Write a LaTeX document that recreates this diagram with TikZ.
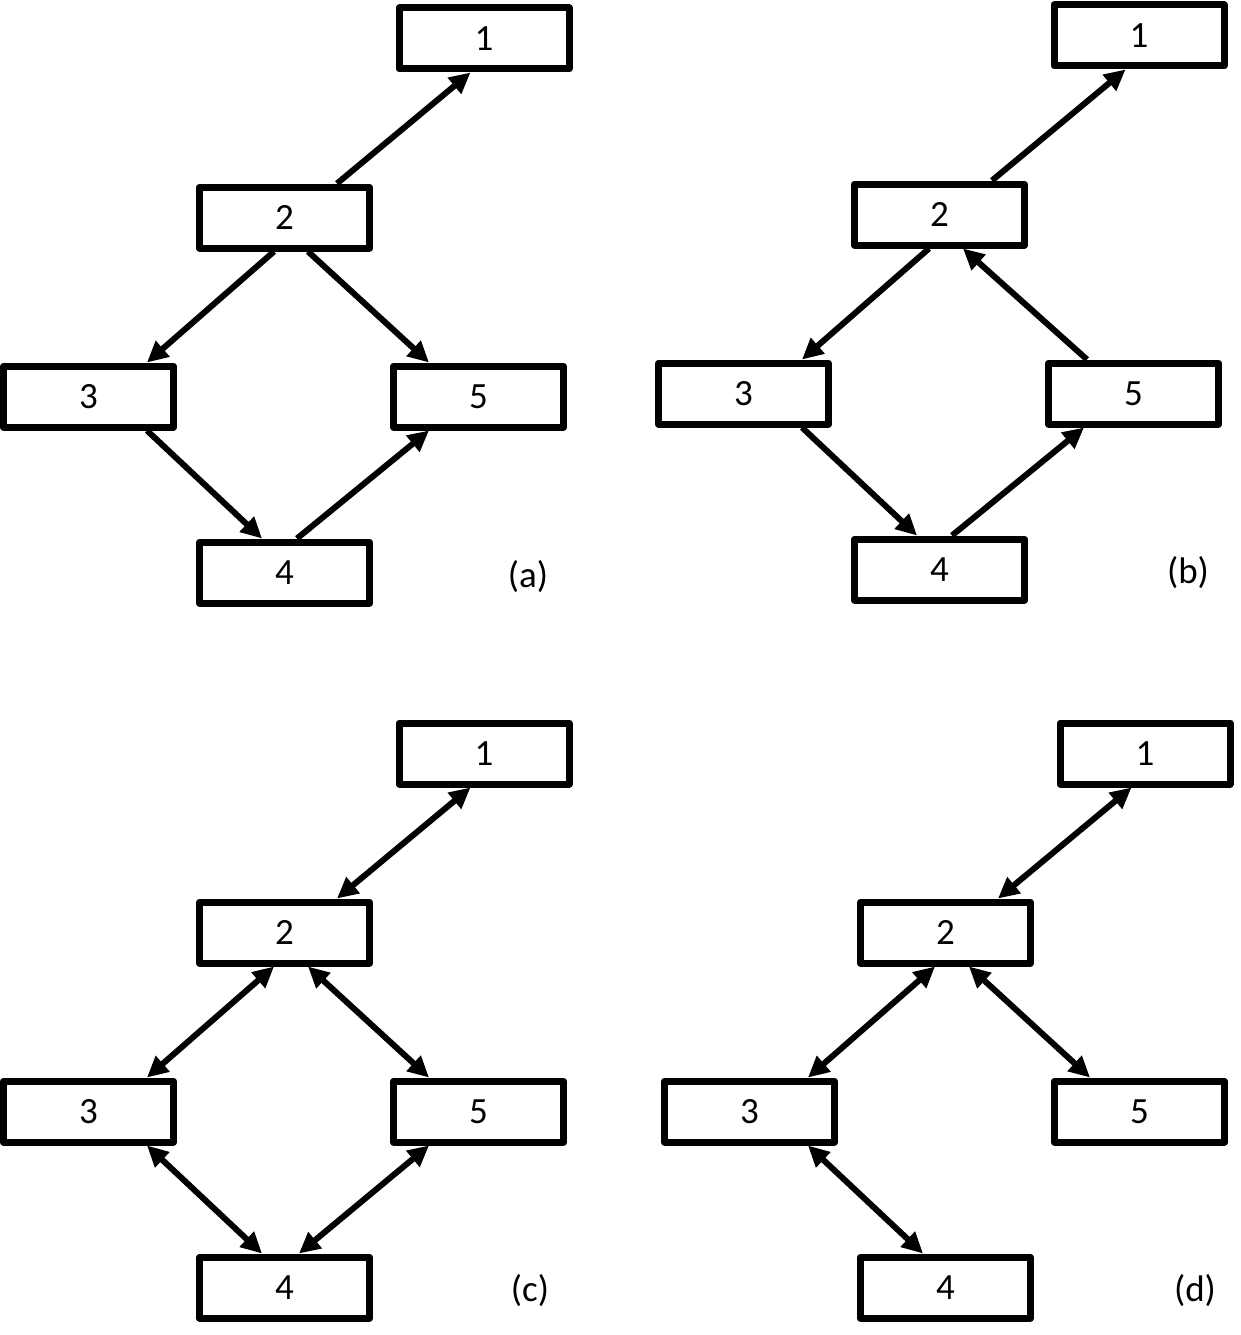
\documentclass[tikz,border=0pt]{standalone}
\usepackage{fontspec}
\setmainfont{Carlito}
\usetikzlibrary{arrows.meta}
\begin{document}
\begin{tikzpicture}[x=1pt,y=-1pt,
  boxnode/.style={draw=black, line width=7pt, line join=round, minimum width=170pt, minimum height=61pt, inner sep=0pt, font=\fontsize{37}{40}\selectfont},
  lbl/.style={font=\fontsize{37}{40}\selectfont, inner sep=0pt},
  conn/.style={line width=6pt, -{Triangle[length=21pt,width=20pt]}},
  bconn/.style={line width=6pt, {Triangle[length=21pt,width=20pt]}-{Triangle[length=21pt,width=20pt]}}]
\useasboundingbox (0,0) rectangle (1241,1335);

% ---------- (a)
\begin{scope}
\node[boxnode] (a1) at (484,38.5) {1};
\node[boxnode] (a2) at (284.5,217.5) {2};
\node[boxnode] (a3) at (88.5,396.5) {3};
\node[boxnode] (a5) at (478.5,396.5) {5};
\node[boxnode] (a4) at (284.5,572.5) {4};
\node[lbl] (al) at (528,577) {(a)};
\draw[conn] ([xshift=141pt]a2.north west) -- ([xshift=75pt]a1.south west);
\draw[conn] ([xshift=78pt]a2.south west) -- ([xshift=147pt]a3.north west);
\draw[conn] ([xshift=112pt]a2.south west) -- ([xshift=39pt]a5.north west);
\draw[conn] ([xshift=147pt]a3.south west) -- ([xshift=66pt]a4.north west);
\draw[conn] ([xshift=101pt]a4.north west) -- ([xshift=39pt]a5.south west);
\end{scope}

% ---------- (b)
\begin{scope}[shift={(655,-3)}]
\node[boxnode] (b1) at (484,38.5) {1};
\node[boxnode] (b2) at (284.5,217.5) {2};
\node[boxnode] (b3) at (88.5,396.5) {3};
\node[boxnode] (b5) at (478.5,396.5) {5};
\node[boxnode] (b4) at (284.5,572.5) {4};
\end{scope}
\node[lbl] (bl) at (1188,573) {(b)};
\draw[conn] ([xshift=141pt]b2.north west) -- ([xshift=75pt]b1.south west);
\draw[conn] ([xshift=78pt]b2.south west) -- ([xshift=147pt]b3.north west);
\draw[conn] ([xshift=42pt]b5.north west) -- ([xshift=112pt]b2.south west);
\draw[conn] ([xshift=147pt]b3.south west) -- ([xshift=66pt]b4.north west);
\draw[conn] ([xshift=101pt]b4.north west) -- ([xshift=39pt]b5.south west);

% ---------- (c)
\begin{scope}[shift={(0,715)}]
\node[boxnode] (c1) at (484,38.5) {1};
\node[boxnode] (c2) at (284.5,217.5) {2};
\node[boxnode] (c3) at (88.5,396.5) {3};
\node[boxnode] (c5) at (478.5,396.5) {5};
\node[boxnode] (c4) at (284.5,572.5) {4};
\end{scope}
\node[lbl] (cl) at (530,1291) {(c)};
\draw[bconn] ([xshift=141pt]c2.north west) -- ([xshift=75pt]c1.south west);
\draw[bconn] ([xshift=78pt]c2.south west) -- ([xshift=147pt]c3.north west);
\draw[bconn] ([xshift=112pt]c2.south west) -- ([xshift=39pt]c5.north west);
\draw[bconn] ([xshift=147pt]c3.south west) -- ([xshift=66pt]c4.north west);
\draw[bconn] ([xshift=103pt]c4.north west) -- ([xshift=39pt]c5.south west);

% ---------- (d)
\begin{scope}[shift={(661,715)}]
\node[boxnode] (d1) at (484,38.5) {1};
\node[boxnode] (d2) at (284.5,217.5) {2};
\node[boxnode] (d3) at (88.5,396.5) {3};
\node[boxnode] (d5) at (478.5,396.5) {5};
\node[boxnode] (d4) at (284.5,572.5) {4};
\end{scope}
\node[lbl] (dl) at (1195,1291) {(d)};
\draw[bconn] ([xshift=141pt]d2.north west) -- ([xshift=75pt]d1.south west);
\draw[bconn] ([xshift=78pt]d2.south west) -- ([xshift=147pt]d3.north west);
\draw[bconn] ([xshift=112pt]d2.south west) -- ([xshift=39pt]d5.north west);
\draw[bconn] ([xshift=147pt]d3.south west) -- ([xshift=66pt]d4.north west);
\end{tikzpicture}
\end{document}
